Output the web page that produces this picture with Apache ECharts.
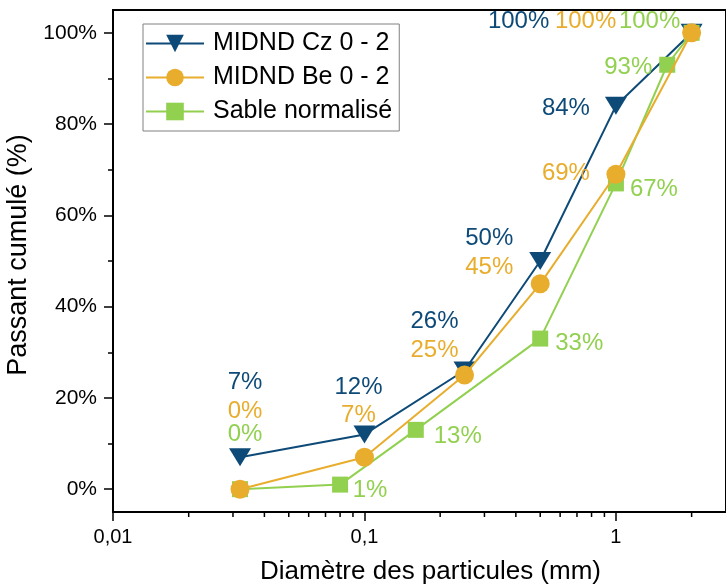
<!DOCTYPE html>
<html>
<head>
<meta charset="utf-8">
<title>Courbe granulométrique</title>
<script src="https://cdn.jsdelivr.net/npm/echarts@6/dist/echarts.min.js"></script>
<style>
    html, body { margin: 0; padding: 0; background: #fff; }
    #chart { width: 726px; height: 585px; }
</style>
</head>
<body>
<div id="chart"></div>
<script>
    // ---------- données ----------
    var diamCz = [0.032, 0.1, 0.25, 0.5, 1, 2];
    var passCz = [7, 12, 26, 50, 84, 100];

    var diamBe = [0.032, 0.1, 0.25, 0.5, 1, 2];
    var passBe = [0, 7, 25, 45, 69, 100];

    var diamSable = [0.032, 0.08, 0.16, 0.5, 1, 1.6, 2];
    var passSable = [0, 1, 13, 33, 67, 93, 100];

    var seriesNames = ["MIDND Cz 0 - 2", "MIDND Be 0 - 2", "Sable normalisé"];
    var yTicks = [0, 20, 40, 60, 80, 100];
    var xMinorTicks = [0.02, 0.03, 0.04, 0.05, 0.06, 0.07, 0.08, 0.09,
                       0.2, 0.3, 0.4, 0.5, 0.6, 0.7, 0.8, 0.9, 2];

    // décalage des étiquettes (px) par point
    var offCz = [[5, -75], [-6, -47], [-30, -49], [-51, -23], [-50, 3], [-173, -11]];
    var offBe = [[5, -78], [-6, -42], [-30, -25], [-51, -16], [-50, -1], [-106, -11]];
    var offSable = [[5, -55], [30, 6], [42, 7], [39, 5], [38, 6], [-39, 3], [-42, -11]];

    var colCz = "#0d4a78";
    var colBe = "#e8ad2d";
    var colSable = "#92d050";
    var font = "Liberation Sans, Arial, sans-serif";

    // cadre : -5 % .. 105 %, axe log coupé à droite
    var yMin = -5, yMax = 105;
    var xMin = 0.01, xMax = 2.74;
    var frameTop = 10, frameBottom = 512, plotLeft = 113;
    var pxPerUnit = (frameBottom - frameTop) / (yMax - yMin);

    function buildData(xs, ys, offs) {
        return xs.map(function (x, i) {
            return {
                value: [x, ys[i]],
                label: { offset: offs[i] }
            };
        });
    }

    function lineSerie(name, xs, ys, offs, color, symbol, size, z) {
        return {
            name: name,
            type: "line",
            xAxisIndex: 1,
            yAxisIndex: 1,
            z: z,
            data: buildData(xs, ys, offs),
            symbol: symbol,
            symbolSize: size,
            lineStyle: { color: color, width: 2 },
            itemStyle: { color: color },
            clip: false,
            label: {
                show: true,
                position: "inside",
                align: "center",
                verticalAlign: "middle",
                color: color,
                fontSize: 24,
                fontFamily: font,
                formatter: function (p) { return p.value[1] + "%"; }
            },
            emphasis: { disabled: true }
        };
    }

    var chart = echarts.init(document.getElementById("chart"), null, { renderer: "canvas" });

    var option = {
        animation: false,
        backgroundColor: "#fff",
        grid: [
            //cadre
            { left: plotLeft, right: 0, top: frameTop, bottom: 585 - frameBottom,
              outerBoundsMode: "none", containLabel: false,
              show: true, borderColor: "#000", borderWidth: 2, backgroundColor: "transparent" },
            //données + graduations 0..100 %
            { left: plotLeft, right: 0,
              outerBoundsMode: "none", containLabel: false,
              top: frameTop + (yMax - 100) * pxPerUnit,
              bottom: 585 - frameBottom + (0 - yMin) * pxPerUnit }
        ],
        legend: {
            orient: "vertical",
            left: 143,
            top: 24,
            padding: [7, 7, 7, 2],
            itemGap: 9,
            itemWidth: 58,
            itemHeight: 22,
            borderColor: "#808080",
            borderWidth: 1,
            backgroundColor: "#fff",
            data: seriesNames,
            textStyle: { fontSize: 25, fontFamily: font, color: "#000", padding: [0, 0, 0, 4] }
        },
        xAxis: [
            {
                type: "log",
                gridIndex: 0,
                logBase: 10,
                min: xMin,
                max: xMax,
                name: "Diamètre des particules (mm)",
                nameLocation: "middle",
                nameGap: 47,
                nameTextStyle: { fontSize: 26, fontFamily: font, color: "#000", padding: [0, 0, 0, 22] },
                axisLine: { onZero: false, lineStyle: { color: "#000", width: 2 } },
                axisTick: { show: true, length: 9, lineStyle: { color: "#000", width: 1.5 } },
                axisLabel: {
                    fontSize: 20, fontFamily: font, color: "#000", margin: 15,
                    showMaxLabel: false,
                    formatter: function (v) { return String(v).replace(".", ","); }
                },
                splitLine: { show: false }
            },
            { type: "log", gridIndex: 1, logBase: 10, min: xMin, max: xMax, show: false }
        ],
        yAxis: [
            {
                type: "value",
                gridIndex: 0,
                min: yMin,
                max: yMax,
                axisLine: { show: true, onZero: false, lineStyle: { color: "#000", width: 2 } },
                axisTick: { show: false },
                axisLabel: { show: false },
                splitLine: { show: false }
            },
            {
                type: "value",
                gridIndex: 1,
                min: yTicks[0],
                max: yTicks[yTicks.length - 1],
                interval: yTicks[1] - yTicks[0],
                name: "Passant cumulé (%)",
                nameLocation: "middle",
                nameGap: 67,
                nameTextStyle: { fontSize: 27, fontFamily: font, color: "#000", padding: [0, 0, 0, 12] },
                axisLine: { show: false },
                axisTick: { show: true, length: 9, lineStyle: { color: "#000", width: 1.5 } },
                minorTick: { show: true, splitNumber: 2, length: 5, lineStyle: { color: "#000", width: 1.5 } },
                axisLabel: {
                    fontSize: 21, fontFamily: font, color: "#000", margin: 16,
                    formatter: function (v) { return v + "%"; }
                },
                splitLine: { show: false }
            }
        ],
        series: [
            lineSerie(seriesNames[0], diamCz, passCz, offCz, colCz,
                "path://M0,0 L22,0 L11,18 Z", [22, 18], 2),
            lineSerie(seriesNames[1], diamBe, passBe, offBe, colBe, "circle", 19, 4),
            lineSerie(seriesNames[2], diamSable, passSable, offSable, colSable, "rect", 16, 3),
            //graduations mineures de l'axe log
            {
                type: "custom",
                xAxisIndex: 0,
                yAxisIndex: 0,
                silent: true,
                clip: false,
                data: xMinorTicks.map(function (v) { return [v, yMin]; }),
                renderItem: function (params, api) {
                    var p = api.coord([api.value(0), api.value(1)]);
                    return {
                        type: "line",
                        shape: { x1: p[0], y1: p[1], x2: p[0], y2: p[1] + 5 },
                        style: { stroke: "#000", lineWidth: 1.5 }
                    };
                }
            }
        ]
    };

    chart.setOption(option);
</script>
</body>
</html>
